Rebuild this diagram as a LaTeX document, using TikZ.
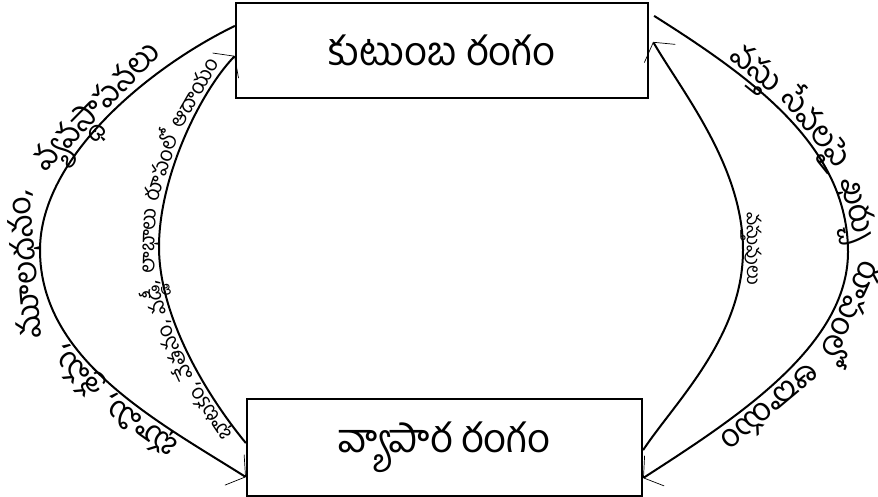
\documentclass[tikz,border=0pt]{standalone}
\usepackage{fontspec}
\setmainfont[Script=Telugu]{Hind Guntur}
\usetikzlibrary{arrows.meta, decorations.text}
\newcommand{\flowbig}{\fontsize{32}{36}\selectfont}
\newcommand{\flowmid}{\fontsize{21}{24}\selectfont}
\newcommand{\flowtiny}{\fontsize{19}{22}\selectfont}

\begin{document}
\begin{tikzpicture}[x=1pt, y=1pt,
  >={Straight Barb[length=13pt, width=36pt, line width=0.7pt]},
  sector/.style={draw, line width=2.2pt, inner sep=0pt, font=\fontsize{40}{44}\selectfont},
  flow/.style={line width=2pt}]
\useasboundingbox (0,0) rectangle (878,497);

\node[sector, minimum width=412pt, minimum height=95pt] (hh) at (442,446.5) {కుటుంబ రంగం};
\node[sector, minimum width=395pt, minimum height=97pt] (fm) at (444.5,49.5) {వ్యాపార రంగం};

% where the curves meet the boxes
\coordinate (hhA) at ([yshift=-24pt]hh.north west);
\coordinate (hhB) at ([yshift=-54pt]hh.north west);
\coordinate (hhC) at ([xshift=5pt, yshift=-14pt]hh.north east);
\coordinate (hhD) at ([xshift=4pt, yshift=-40pt]hh.north east);
\coordinate (fmA) at ([yshift=20pt]fm.south west);
\coordinate (fmB) at ([yshift=54pt]fm.south west);
\coordinate (fmC) at ([yshift=19pt]fm.south east);
\coordinate (fmD) at ([yshift=47pt]fm.south east);

% left side
\draw[flow, <-, postaction={decorate, decoration={text along path, text align=center, raise=5pt,
    text={|\flowbig|{భూమి,} {శ్రమ,} {మూలధనం,} {వ్యవస్థాపనలు}}}}]
  (fmA) .. controls (157,76) and (40,137) .. (40,247)
  .. controls (40,340) and (150,430) .. (hhA);
\draw[flow, ->, postaction={decorate, decoration={text along path, text align=center, raise=4pt,
    text={|\flowmid|{భాటకం,} {వేతనం,} {వడ్డీ,} {లాభాలు} {రూపంలో} {ఆదాయం}}}}]
  (fmB) .. controls (207,101) and (159,180) .. (159,250)
  .. controls (159,320) and (200,405) .. (hhB);

% right side
\draw[flow, <-, postaction={decorate, decoration={text along path, text align=center, raise=4pt,
    text={|\flowtiny|{వస్తువులు}}}}]
  (hhD) .. controls (683,404) and (743,330) .. (743,247)
  .. controls (743,160) and (675,95) .. (fmD);
\draw[flow, ->, postaction={decorate, decoration={text along path, text align=center, raise=5pt,
    text={|\flowbig|{వస్తు} {సేవలపై} {ఖర్చు} {రూపంలో} {ఆదాయం}}}}]
  (hhC) .. controls (754,418) and (848,350) .. (848,245)
  .. controls (848,150) and (733,77) .. (fmC);
\end{tikzpicture}
\end{document}
